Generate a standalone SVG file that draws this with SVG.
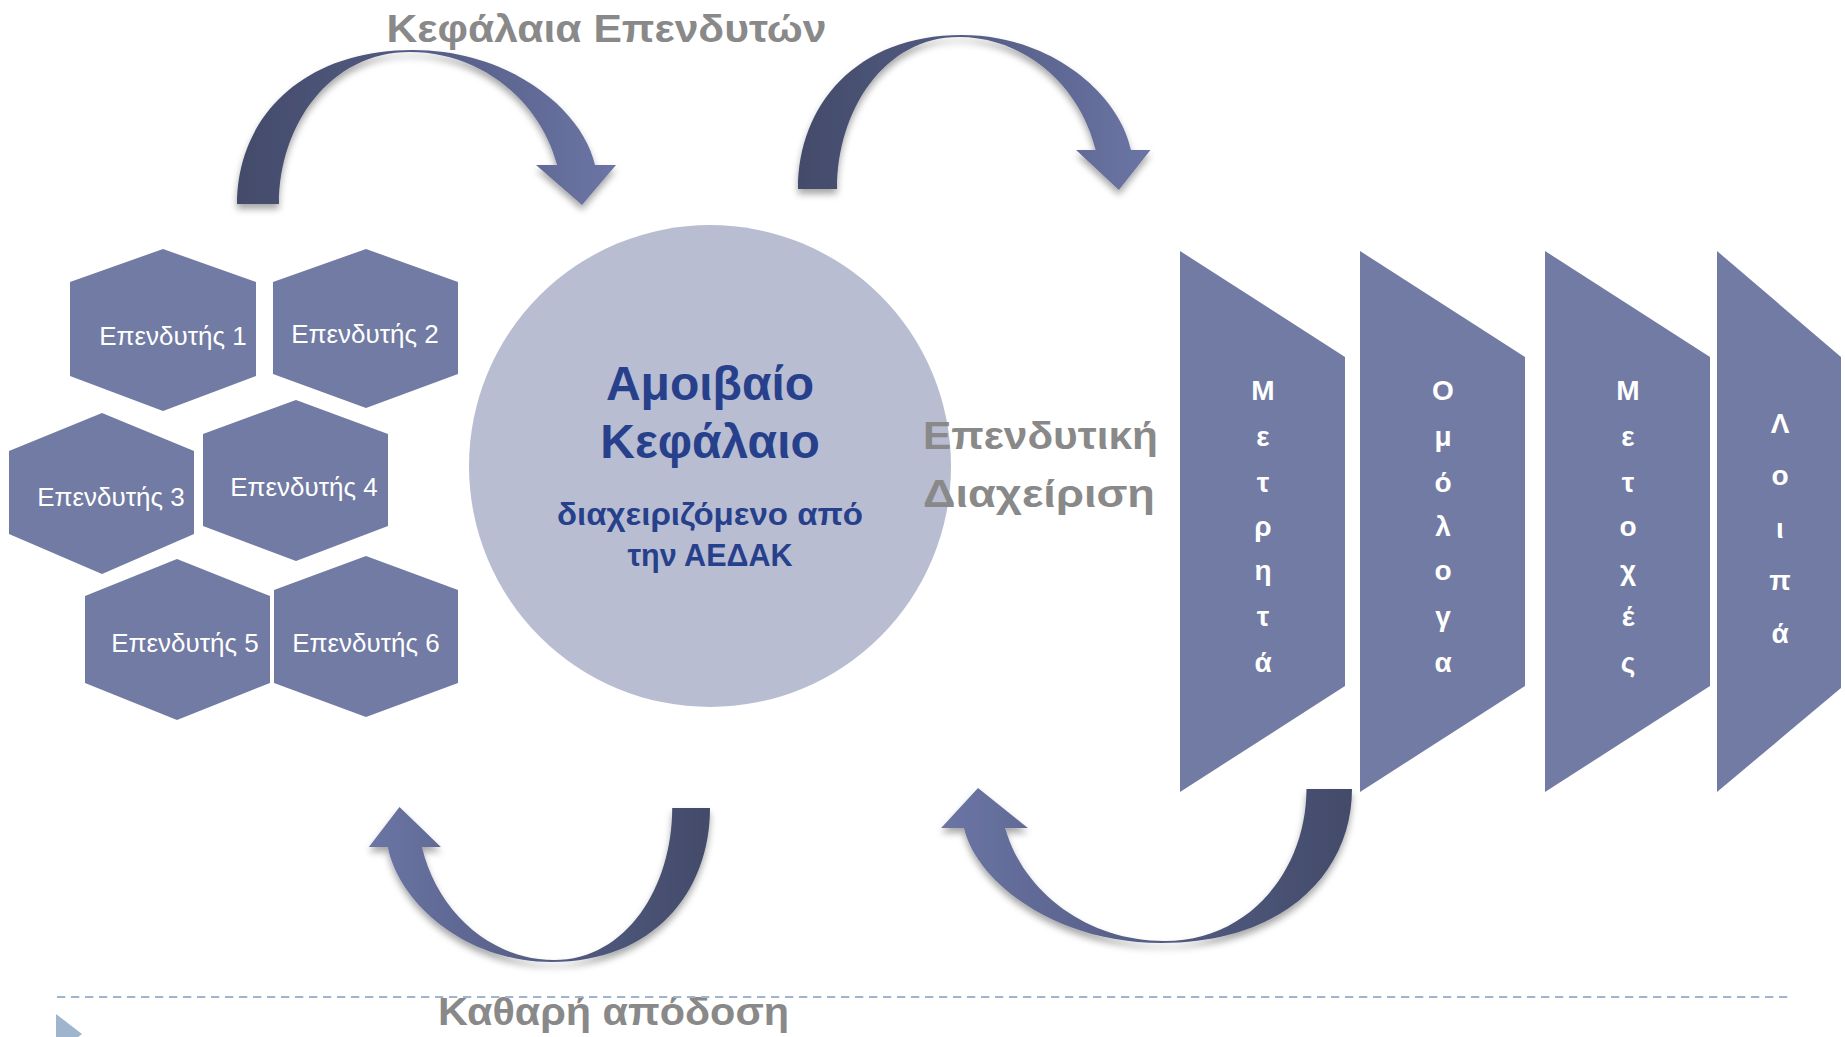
<svg xmlns="http://www.w3.org/2000/svg" width="1845" height="1037" viewBox="0 0 1845 1037">
<style>
.hex{fill:#717BA3}
.trap{fill:#717BA3}
.hext{font-family:"Liberation Sans",Arial,sans-serif;font-size:26px;fill:#ffffff;text-anchor:middle}
.vt{font-family:"Liberation Sans",Arial,sans-serif;font-weight:bold;font-size:28px;fill:#ffffff;text-anchor:middle}
.gray{font-family:"Liberation Sans",Arial,sans-serif;font-weight:bold;font-size:39px;fill:#898989}
.ct{font-family:"Liberation Sans",Arial,sans-serif;font-weight:bold;fill:#27408B;text-anchor:middle}
</style>
<defs>
<linearGradient id="arrGrad" x1="0" y1="0" x2="1" y2="0">
<stop offset="0" stop-color="#434B69"/>
<stop offset="0.45" stop-color="#535B82"/>
<stop offset="1" stop-color="#6B75A4"/>
</linearGradient>
<filter id="shadow" x="-20%" y="-20%" width="140%" height="140%">
<feDropShadow dx="0" dy="5" stdDeviation="3.5" flood-color="#000000" flood-opacity="0.35"/>
</filter>
<path id="arrowShape" fill="url(#arrGrad)" d="M237,204 C237,120 300,50 413,50 C510,50 583,110 595,165 L616,165 L582,205 L536,165 L557,165 C540,100 480,52 410,52 C330,52 279,125 279,204 Z"/>
</defs>
<rect width="1845" height="1037" fill="#ffffff"/>

<g id="connectors">
<g id="arrow-investors-to-fund" filter="url(#shadow)"><use href="#arrowShape"/></g>
<g id="arrow-fund-to-assets" filter="url(#shadow)"><use href="#arrowShape" transform="matrix(0.93,0,0,1,577.6,-15)"/></g>
<g id="arrow-fund-to-investors" filter="url(#shadow)"><use href="#arrowShape" transform="matrix(-0.9,0,0,-1,923.3,1012)"/></g>
<g id="arrow-assets-to-fund" filter="url(#shadow)"><use href="#arrowShape" transform="matrix(-1.084,0,0,-1,1608.9,993)"/></g>
</g>

<g id="investor1"><polygon class="hex" points="163,249 256,282 256,376 163,411 70,376 70,282"/><text class="hext" x="173" y="345">Επενδυτής 1</text></g>
<g id="investor2"><polygon class="hex" points="366,249 458,282 458,374 366,408 273,374 273,282"/><text class="hext" x="365" y="343">Επενδυτής 2</text></g>
<g id="investor3"><polygon class="hex" points="102,413 194,451 194,534 102,574 9,534 9,451"/><text class="hext" x="111" y="506">Επενδυτής 3</text></g>
<g id="investor4"><polygon class="hex" points="296,400 388,434 388,526 296,561 203,526 203,434"/><text class="hext" x="304" y="496">Επενδυτής 4</text></g>
<g id="investor5"><polygon class="hex" points="177,559 270,596 270,683 177,720 85,683 85,596"/><text class="hext" x="185" y="652">Επενδυτής 5</text></g>
<g id="investor6"><polygon class="hex" points="366,556 458,590 458,683 366,717 274,683 274,590"/><text class="hext" x="366" y="652">Επενδυτής 6</text></g>

<g id="fund">
<circle cx="710" cy="466" r="241" fill="#B8BDD2"/>
<text class="ct" x="710" y="400" font-size="48">Αμοιβαίο</text>
<text class="ct" x="710" y="458" font-size="48">Κεφάλαιο</text>
<text class="ct" x="710" y="525" font-size="31" textLength="306" lengthAdjust="spacingAndGlyphs">διαχειριζόμενο από</text>
<text class="ct" x="710" y="566" font-size="31" textLength="165" lengthAdjust="spacingAndGlyphs">την ΑΕΔΑΚ</text>
</g>

<g id="label-top"><text class="gray" x="386.5" y="42" textLength="440" lengthAdjust="spacingAndGlyphs">Κεφάλαια Επενδυτών</text></g>
<g id="label-mgmt">
<text class="gray" x="923" y="449" textLength="235" lengthAdjust="spacingAndGlyphs">Επενδυτική</text>
<text class="gray" x="923" y="507" textLength="232" lengthAdjust="spacingAndGlyphs">Διαχείριση</text>
</g>
<g id="label-bottom"><text class="gray" x="438" y="1025" textLength="351" lengthAdjust="spacingAndGlyphs">Καθαρή απόδοση</text></g>

<g id="asset-deposits">
<polygon class="trap" points="1180,251 1345,357 1345,686 1180,792"/>
<text class="vt"><tspan x="1263" y="400">Μ</tspan><tspan x="1263" y="446">ε</tspan><tspan x="1263" y="492">τ</tspan><tspan x="1263" y="536">ρ</tspan><tspan x="1263" y="580">η</tspan><tspan x="1263" y="626">τ</tspan><tspan x="1263" y="672">ά</tspan></text>
</g>
<g id="asset-bonds">
<polygon class="trap" points="1360,251 1525,357 1525,686 1360,792"/>
<text class="vt"><tspan x="1443" y="400">Ο</tspan><tspan x="1443" y="446">μ</tspan><tspan x="1443" y="492">ό</tspan><tspan x="1443" y="536">λ</tspan><tspan x="1443" y="580">ο</tspan><tspan x="1443" y="626">γ</tspan><tspan x="1443" y="672">α</tspan></text>
</g>
<g id="asset-shares">
<polygon class="trap" points="1545,251 1710,357 1710,686 1545,792"/>
<text class="vt"><tspan x="1628" y="400">Μ</tspan><tspan x="1628" y="446">ε</tspan><tspan x="1628" y="492">τ</tspan><tspan x="1628" y="536">ο</tspan><tspan x="1628" y="580">χ</tspan><tspan x="1628" y="626">έ</tspan><tspan x="1628" y="672">ς</tspan></text>
</g>
<g id="asset-other">
<polygon class="trap" points="1717,251 1841,357 1841,688 1717,792"/>
<text class="vt" font-size="33"><tspan x="1780" y="433">Λ</tspan><tspan x="1780" y="485">ο</tspan><tspan x="1780" y="538">ι</tspan><tspan x="1780" y="590">π</tspan><tspan x="1780" y="643">ά</tspan></text>
</g>

<g id="footer">
<line x1="57" y1="997" x2="1788" y2="997" stroke="#A0B5CB" stroke-width="2" stroke-dasharray="8.3 5.7"/>
<polygon points="56,1014 82,1034 56,1054" fill="#9FB5CD"/>
</g>
</svg>
